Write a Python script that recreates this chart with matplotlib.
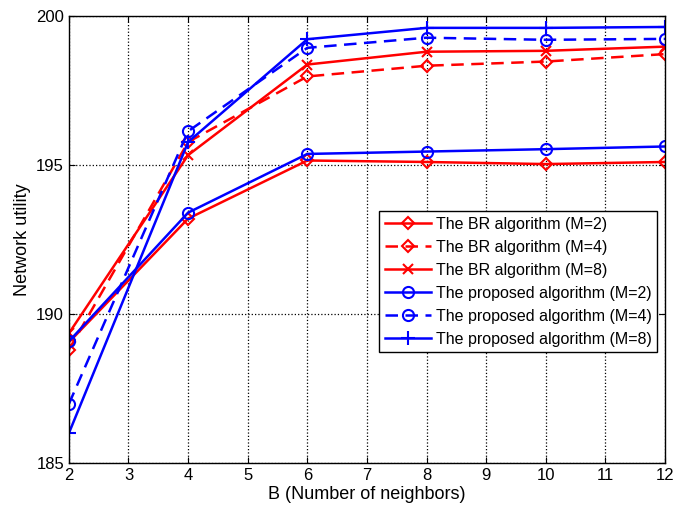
import matplotlib.pyplot as plt
import numpy as np

plt.rcParams['font.family'] = ['Liberation Sans', 'DejaVu Sans']

B = [2, 4, 6, 8, 10, 12]
br_m2 = [189.05, 193.2, 195.15, 195.1, 195.03, 195.1]
br_m4 = [188.8, 195.77, 197.97, 198.33, 198.47, 198.72]
br_m8 = [189.35, 195.33, 198.37, 198.8, 198.83, 198.97]
prop_m2 = [189.08, 193.4, 195.37, 195.45, 195.53, 195.62]
prop_m4 = [186.98, 196.13, 198.93, 199.27, 199.2, 199.23]
prop_m8 = [186.0, 195.77, 199.22, 199.6, 199.6, 199.63]

fig = plt.figure(figsize=(6.82, 5.08), dpi=100)
ax = fig.add_axes([0.101, 0.0886, 0.874, 0.88])

ms = 8
mew = 1.5
dash = (5, 3)
ax.plot(B, br_m2, color='red', ls='-', marker='D', ms=6.5, mfc='none', mew=mew, lw=1.8, label='The BR algorithm (M=2)')
ax.plot(B, br_m4, color='red', ls='--', dashes=dash, marker='D', ms=6.5, mfc='none', mew=mew, lw=1.8, label='The BR algorithm (M=4)')
ax.plot(B, br_m8, color='red', ls='-', marker='x', ms=7, mew=mew, lw=1.8, label='The BR algorithm (M=8)')
ax.plot(B, prop_m2, color='blue', ls='-', marker='o', ms=ms, mfc='none', mew=mew, lw=1.8, label='The proposed algorithm (M=2)')
ax.plot(B, prop_m4, color='blue', ls='--', dashes=dash, marker='o', ms=ms, mfc='none', mew=mew, lw=1.8, label='The proposed algorithm (M=4)')
ax.plot(B, prop_m8, color='blue', ls='-', marker='+', ms=10, mew=mew, lw=1.8, label='The proposed algorithm (M=8)')

ax.set_xlim(2, 12)
ax.set_ylim(185, 200)
ax.set_xticks(range(2, 13))
ax.set_yticks([185, 190, 195, 200])
ax.tick_params(direction='in', labelsize=12, top=True, right=True, length=4)
ax.grid(True, color='black', ls=':', lw=0.9)
for s in ax.spines.values():
    s.set_linewidth(1.0)

ax.set_xlabel('B (Number of neighbors)', fontsize=13, labelpad=2)
ax.set_ylabel('Network utility', fontsize=13, labelpad=4)

leg = ax.legend(loc='lower right', bbox_to_anchor=(0.987, 0.248), fontsize=11.5, fancybox=False,
                framealpha=1, edgecolor='black', borderpad=0.35, labelspacing=0.5,
                handlelength=2.9, handletextpad=0.3, borderaxespad=0)
leg.get_frame().set_linewidth(1.0)

fig.savefig('out.png', dpi=100)
